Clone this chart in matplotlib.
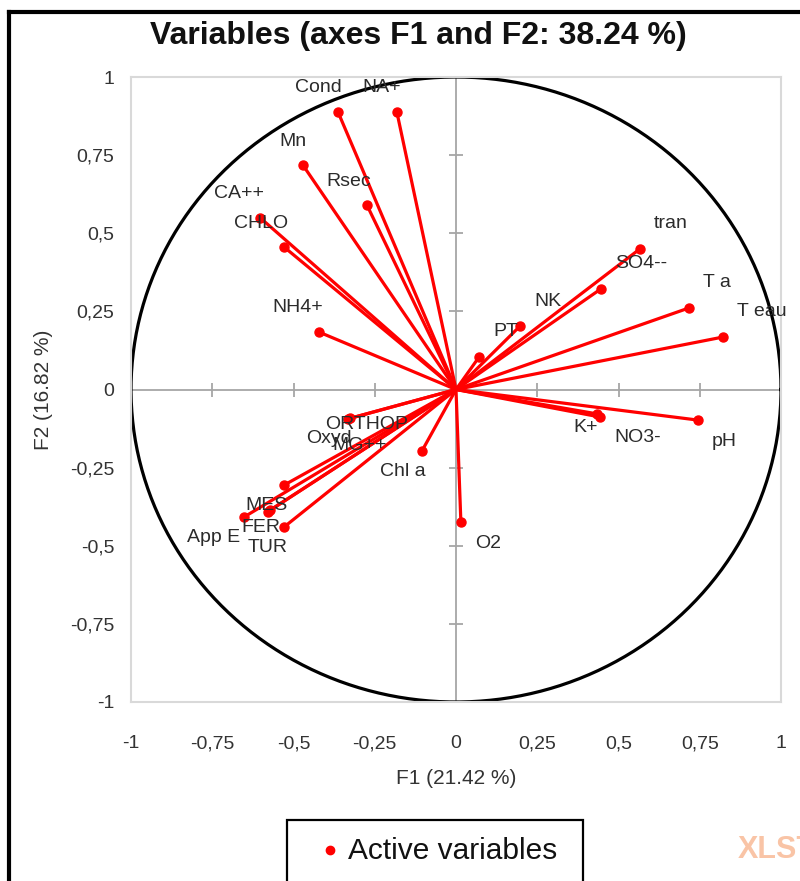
import numpy as np
import matplotlib
matplotlib.use("Agg")
import matplotlib.pyplot as plt
from matplotlib.patches import Rectangle
from matplotlib.lines import Line2D

plt.rcParams['font.family'] = ['Liberation Sans', 'DejaVu Sans']

# %% data (F1, F2 coordinates)
variables = ['Cond', 'NA+', 'Mn', 'Rsec', 'CA++', 'CHLO', 'NH4+',
             'tran', 'SO4--', 'NK', 'PT', 'T a', 'T eau',
             'pH', 'NO3-', 'K+', 'O2',
             'Chl a', 'TUR', 'MES', 'FER', 'App E', 'MG++', 'Oxyd', 'ORTHOP']
f1 = [-0.363, -0.182, -0.471, -0.274, -0.603, -0.529, -0.422,
      0.566, 0.446, 0.197, 0.071, 0.717, 0.822,
      0.745, 0.443, 0.434, 0.015,
      -0.105, -0.529, -0.529, -0.572, -0.652, -0.580, -0.332, -0.325]
f2 = [0.888, 0.888, 0.718, 0.590, 0.550, 0.456, 0.184,
      0.450, 0.322, 0.203, 0.104, 0.261, 0.168,
      -0.098, -0.088, -0.078, -0.424,
      -0.197, -0.440, -0.306, -0.386, -0.408, -0.392, -0.094, -0.092]

ticks = [-1, -0.75, -0.5, -0.25, 0, 0.25, 0.5, 0.75, 1]
tick_labels = ['-1', '-0,75', '-0,5', '-0,25', '0', '0,25', '0,5', '0,75', '1']

title = 'Variables (axes F1 and F2: 38.24 %)'
xlabel = 'F1 (21.42 %)'
ylabel = 'F2 (16.82 %)'

# label placement: offset in pixels + alignment (by quadrant, with a few fixes)
offsets = {}
for name, x, y in zip(variables, f1, f2):
    if x < 0 and y > 0:
        offsets[name] = (4, 24, 'right')
    elif x >= 0 and y > 0:
        offsets[name] = (14, 25, 'left')
    elif x >= 0:
        offsets[name] = (14, -21, 'left')
    else:
        offsets[name] = (4, -20, 'right')
offsets['K+'] = (1, -14, 'right')
offsets['App E'] = (-4, -21, 'right')
offsets['FER'] = (10, -17, 'right')
offsets['MG++'] = (65, 66, 'left')
offsets['ORTHOP'] = (-25, -6, 'left')

# %% figure
fig = plt.figure(figsize=(8, 8.81), dpi=100)
W, H = 800, 881
ax = fig.add_axes([131 / W, 1 - 702 / H, 650 / W, 625 / H])

ax.set_xlim(-1, 1)
ax.set_ylim(-1, 1)
for s in ax.spines.values():
    s.set_color('#d9d9d9')
    s.set_linewidth(1.5)
ax.set_xticks(ticks)
ax.set_xticklabels(tick_labels)
ax.set_yticks(ticks)
ax.set_yticklabels(tick_labels)
ax.tick_params(length=0, labelsize=14, labelcolor='#333333')
ax.tick_params(axis='x', pad=24)
ax.tick_params(axis='y', pad=12)

# centre axes with small tick marks
ax.axhline(0, color='#a6a6a6', lw=1.3, zorder=1)
ax.axvline(0, color='#a6a6a6', lw=1.3, zorder=1)
ax.plot(np.zeros(len(ticks)), ticks, ls='none', marker='_', ms=10,
        mew=1.3, color='#a6a6a6', zorder=1)
ax.plot(ticks, np.zeros(len(ticks)), ls='none', marker='|', ms=10,
        mew=1.3, color='#a6a6a6', zorder=1)

# correlation circle
t = np.linspace(0, 2 * np.pi, 400)
ax.plot(np.cos(t), np.sin(t), color='black', lw=2.3, zorder=2)

# vectors
for name, x, y in zip(variables, f1, f2):
    ax.plot([0, x], [0, y], color='red', lw=2.3, solid_capstyle='round', zorder=3)
ax.plot(f1, f2, 'o', color='red', ms=6.5, zorder=4)

for name, x, y in zip(variables, f1, f2):
    dx, dy, ha = offsets[name]
    ax.annotate(name, (x, y), xytext=(dx, dy), textcoords='offset pixels',
                ha=ha, va='center', fontsize=14, color='#2b2b2b', zorder=5)

ax.set_xlabel(xlabel, fontsize=15, color='#333333', labelpad=12)
ax.set_ylabel(ylabel, fontsize=15, color='#333333', labelpad=12)

fig.text(418 / W, 1 - 36 / H, title, ha='center', va='center',
         fontsize=23, fontweight='bold', color='#111111')

# legend box (cut by the bottom edge)
fig.patches.append(Rectangle((287 / W, -0.02), 296 / W, 0.02 + (881 - 820) / H,
                             transform=fig.transFigure, fill=False,
                             edgecolor='black', lw=1.6))
fig.lines.append(Line2D([330 / W], [1 - 850 / H], marker='o', color='red',
                        ms=6, ls='none', transform=fig.transFigure))
fig.text(348 / W, 1 - 851 / H, 'Active variables', ha='left', va='center',
         fontsize=21.5, color='#111111')

# watermark
fig.text(738 / W, 1 - 850 / H, 'XLSTAT', ha='left', va='center', fontsize=22,
         fontweight='bold', color='#f9c4a6')

# outer border of the screenshot
fig.lines.append(Line2D([9 / W, 9 / W], [0, 1 - 12 / H], color='black', lw=3,
                        transform=fig.transFigure))
fig.lines.append(Line2D([9 / W, 1], [1 - 12 / H, 1 - 12 / H], color='black', lw=3,
                        transform=fig.transFigure))

fig.savefig('out.png', dpi=100)
